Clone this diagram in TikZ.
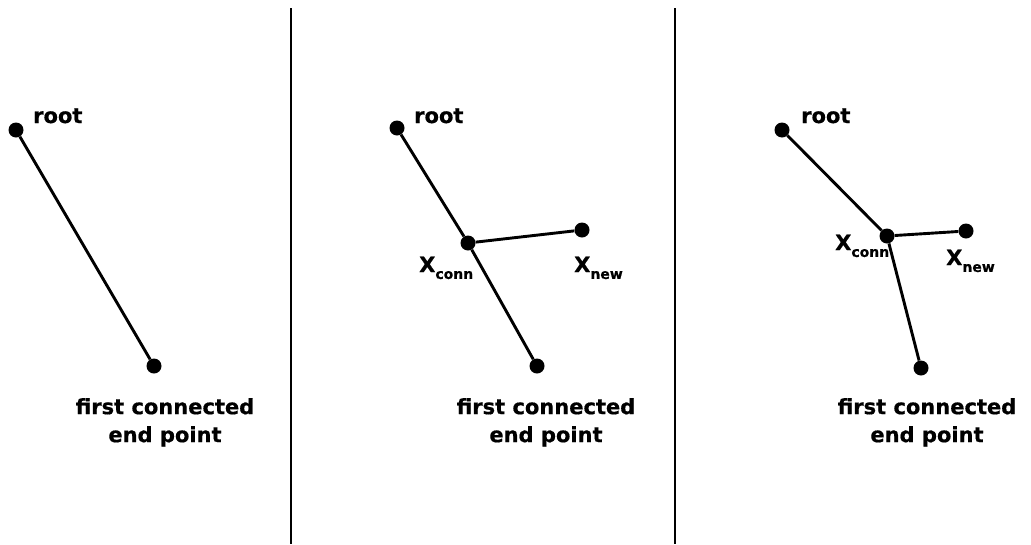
\documentclass[tikz,border=0pt]{standalone}
\usepackage{fontspec}
\setmainfont{DejaVu Sans}[BoldFeatures={FakeBold=0.6}]
\begin{document}
\begin{tikzpicture}[x=1pt,y=-1pt,
  vertex/.style={circle,fill=black,inner sep=0pt,minimum size=15pt},
  edge/.style={line width=2.9pt},
  divider/.style={line width=1.3pt},
  lbl/.style={font=\bfseries\fontsize{21}{28}\selectfont,inner sep=0pt},
  caption/.style={lbl,align=center,anchor=north}]
\useasboundingbox (0,0) rectangle (1031,544);
% panel separators
\coordinate (d1t) at (291,8);  \coordinate (d1b) at (291,544);
\coordinate (d2t) at (675,8);  \coordinate (d2b) at (675,544);
\draw[divider] (d1t) -- (d1b);
\draw[divider] (d2t) -- (d2b);
\newcommand{\xlabel}[1]{X\raisebox{-0.6ex}{\fontsize{14}{14}\selectfont #1}}
% left panel: the tree is a single edge
\node[vertex] (r1) at (16,130) {};
\node[vertex] (e1) at (154,366) {};
\draw[edge] (r1) -- (e1);
\node[lbl,anchor=base west] (tr1) at (33,123) {root};
\node[caption] (c1) at (165,398) {first connected\\end point};
% middle panel: the edge is split at x_conn
\node[vertex] (r2) at (397,128) {};
\node[vertex] (x2) at (468,243) {};
\node[vertex] (n2) at (582,230) {};
\node[vertex] (e2) at (537,366) {};
\draw[edge] (r2) -- (x2) -- (e2);
\draw[edge] (x2) -- (n2);
\node[lbl,anchor=base west] (tr2) at (414,123) {root};
\node[lbl,anchor=base west] (tx2) at (419,272) {\xlabel{conn}};
\node[lbl,anchor=base west] (tn2) at (574,272) {\xlabel{new}};
\node[caption] (c2) at (546,398) {first connected\\end point};
% right panel: x_conn moved, edges rewired
\node[vertex] (r3) at (782,130) {};
\node[vertex] (x3) at (887,236) {};
\node[vertex] (n3) at (966,231) {};
\node[vertex] (e3) at (921,368) {};
\draw[edge] (r3) -- (x3) -- (e3);
\draw[edge] (x3) -- (n3);
\node[lbl,anchor=base west] (tr3) at (801,123) {root};
\node[lbl,anchor=base west] (tx3) at (835,250) {\xlabel{conn}};
\node[lbl,anchor=base west] (tn3) at (946,265) {\xlabel{new}};
\node[caption] (c3) at (927,398) {first connected\\end point};
\end{tikzpicture}
\end{document}
